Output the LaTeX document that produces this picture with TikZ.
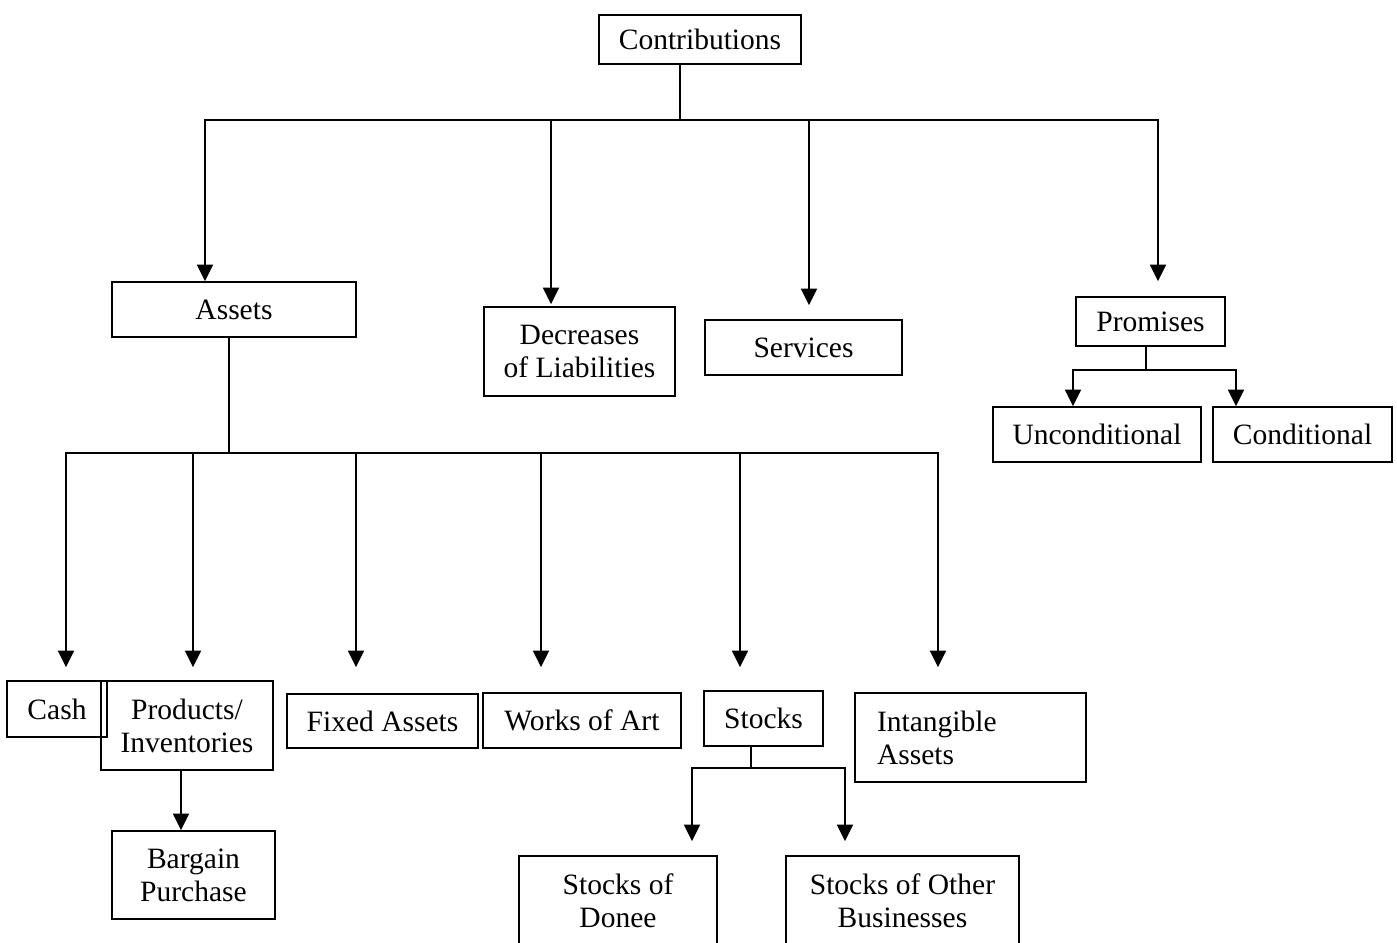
\documentclass[tikz,border=0pt]{standalone}
\usepackage{fontspec}
\setmainfont{Liberation Serif}
\usetikzlibrary{arrows.meta,calc}

\begin{document}
\begin{tikzpicture}[x=0.02cm,y=-0.02cm,
    every node/.style={font=\fontsize{16.8}{18.8}\selectfont},
    box/.style={draw,line width=0.9pt,inner sep=0pt,align=center},
    stem/.style={line width=0.9pt},
    arr/.style={line width=1.4pt,-{Triangle[width=9pt,length=9.5pt]}}]
  \clip (0,0) rectangle (1397,943);
  \node[box,minimum width=4.04cm,minimum height=0.98cm] (contrib) at (700,39.5) {Contributions};
  \node[box,minimum width=4.88cm,minimum height=1.10cm] (assets) at (234,309.5) {Assets};
  \node[box,minimum width=3.82cm,minimum height=1.78cm] (decr) at (579.5,351.5) {Decreases\\of Liabilities};
  \node[box,minimum width=3.94cm,minimum height=1.10cm] (serv) at (803.5,347.5) {Services};
  \node[box,minimum width=2.98cm,minimum height=0.98cm] (prom) at (1150.5,321.5) {Promises};
  \node[box,minimum width=4.16cm,minimum height=1.10cm] (uncond) at (1097,434.5) {Unconditional};
  \node[box,minimum width=3.58cm,minimum height=1.10cm] (cond) at (1302.5,434.5) {Conditional};
  \node[box,minimum width=2.00cm,minimum height=1.12cm] (cash) at (57,709) {Cash};
  \node[box,minimum width=3.44cm,minimum height=1.78cm] (prod) at (187,725.5) {Products/\\Inventories};
  \node[box,minimum width=3.26cm,minimum height=1.76cm] (bargain) at (193.5,875) {Bargain\\Purchase};
  \node[box,minimum width=3.82cm,minimum height=1.08cm] (fixed) at (382.5,721) {Fixed Assets};
  \node[box,minimum width=3.96cm,minimum height=1.10cm] (works) at (582,720.5) {Works of Art};
  \node[box,minimum width=2.38cm,minimum height=1.10cm] (stocks) at (763.5,718.5) {Stocks};
  \node[box,minimum width=4.62cm,minimum height=1.78cm,align=left,text width=3.74cm] (intang) at (970.5,737.5) {Intangible\\Assets};
  \node[box,minimum width=3.96cm,minimum height=1.80cm] (sdonee) at (618,901) {Stocks of\\Donee};
  \node[box,minimum width=4.66cm,minimum height=1.80cm] (sother) at (902.5,901) {Stocks of Other\\Businesses};

  \coordinate (cjoin) at (680,120);
  \coordinate (ajoin) at (229,453);
  \coordinate (sjoin) at (751,768);
  \coordinate (pjoin) at (1146,370);

  \draw[stem] (contrib.south -| cjoin) -- (cjoin);
  \draw[arr] (cjoin) -| ($(assets.north)+(-29,0)$);
  \draw[arr,shorten >=0.04cm] (cjoin) -| ($(decr.north)+(-28.5,0)$);
  \draw[arr,shorten >=0.28cm] (cjoin) -| ($(serv.north)+(5.5,0)$);
  \draw[arr,shorten >=0.30cm] (cjoin) -| ($(prom.north)+(7.5,0)$);

  \draw[stem] (assets.south -| ajoin) -- (ajoin);
  \draw[arr,shorten >=0.26cm] (ajoin) -| ($(cash.north)+(9,0)$);
  \draw[arr,shorten >=0.26cm] (ajoin) -| ($(prod.north)+(6,0)$);
  \draw[arr,shorten >=0.52cm] (ajoin) -| ($(fixed.north)+(-26.5,0)$);
  \draw[arr,shorten >=0.50cm] (ajoin) -| ($(works.north)+(-41,0)$);
  \draw[arr,shorten >=0.46cm] (ajoin) -| ($(stocks.north)+(-23.5,0)$);
  \draw[arr,shorten >=0.50cm] (ajoin) -| ($(intang.north)+(-32.5,0)$);

  \draw[arr] ($(prod.south)+(-6,0)$) -- ($(bargain.north)+(-12.5,0)$);

  \draw[stem] (stocks.south -| sjoin) -- (sjoin);
  \draw[arr,shorten >=0.28cm] (sjoin) -| ($(sdonee.north)+(74,0)$);
  \draw[arr,shorten >=0.28cm] (sjoin) -| ($(sother.north)+(-57.5,0)$);

  \draw[stem] (prom.south -| pjoin) -- (pjoin);
  \draw[arr] (pjoin) -| ($(uncond.north)+(-24,0)$);
  \draw[arr] (pjoin) -| ($(cond.north)+(-66.5,0)$);
\end{tikzpicture}
\end{document}
